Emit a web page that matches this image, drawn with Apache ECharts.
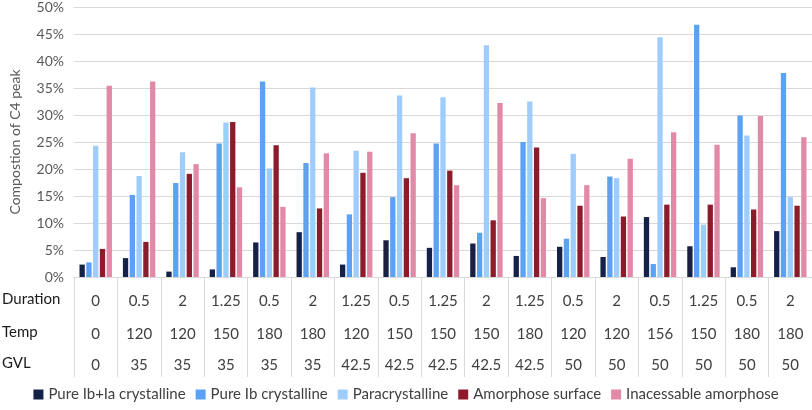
<!DOCTYPE html>
<html>
<head>
<meta charset="utf-8">
<script src="https://cdn.jsdelivr.net/npm/echarts@6/dist/echarts.min.js"></script>
<style>html,body{margin:0;padding:0;background:#fff}#c{width:812px;height:410px}</style>
</head>
<body>
<div id="c"></div>
<script>
var duration = ['0','0.5','2','1.25','0.5','2','1.25','0.5','1.25','2','1.25','0.5','2','0.5','1.25','0.5','2'];
var temp = ['0','120','120','150','180','180','120','150','150','150','180','120','120','156','150','180','180'];
var gvl = ['0','35','35','35','35','35','42.5','42.5','42.5','42.5','42.5','50','50','50','50','50','50'];
var seriesNames = ['Pure Ib+Ia crystalline','Pure Ib crystalline','Paracrystalline','Amorphose surface','Inacessable amorphose'];
var pureIbIa = [2.3,3.5,1.0,1.4,6.4,8.3,2.3,6.8,5.4,6.2,3.9,5.6,3.7,11.1,5.7,1.8,8.5];
var pureIb = [2.7,15.2,17.4,24.7,36.2,21.1,11.6,14.8,24.7,8.2,25.0,7.1,18.6,2.4,46.7,29.9,37.8];
var paracryst = [24.3,18.7,23.1,28.6,20.1,35.1,23.4,33.6,33.3,42.9,32.5,22.8,18.3,44.4,9.7,26.2,14.8];
var amorphSurf = [5.2,6.5,19.1,28.7,24.4,12.7,19.3,18.3,19.7,10.5,24.0,13.2,11.2,13.4,13.4,12.5,13.2];
var inaccAmorph = [35.4,36.2,20.9,16.6,13.0,22.9,23.2,26.6,17.0,32.2,14.6,17.0,21.9,26.8,24.5,29.8,25.9];
var rowLabels = ['Duration','Temp','GVL'];
var colors = ['#14224a','#5ba2f4','#9ecdfc','#8c1c2c','#e189a7'];

var font = 'Lato';
var chart = echarts.init(document.getElementById('c'));
var cats = duration.map(function(d,i){return i;});
var dataArrays = [pureIbIa, pureIb, paracryst, amorphSurf, inaccAmorph];
var rows = [duration, temp, gvl];
var offsets = [0, 33, 64];
var xAxes = rows.map(function(r, k){
  return {
    type: 'category', data: cats, position: 'bottom', offset: offsets[k],
    axisLine: {show: k === 0, lineStyle: {color: '#d9d9d9'}},
    axisTick: {show: k === 0, length: 100, interval: 0, lineStyle: {color: '#d9d9d9'}},
    axisLabel: {interval: 0, margin: 17, color: '#404040', fontFamily: font, fontSize: 15,
      formatter: function(v){ return r[v]; }}
  };
});
chart.setOption({
  animation: false,
  textStyle: {fontFamily: font},
  grid: {left: 73, right: 0, top: 6, bottom: 133},
  legend: {
    bottom: 3, left: 'center', itemWidth: 10, itemHeight: 10, itemGap: 10,
    icon: 'rect', textStyle: {color: '#404040', fontSize: 15, fontFamily: font},
    data: seriesNames
  },
  xAxis: xAxes,
  yAxis: {
    type: 'value', min: 0, max: 50, interval: 5,
    name: 'Compostion of C4 peak', nameLocation: 'middle', nameGap: 52,
    nameTextStyle: {color: '#595959', fontSize: 14, fontFamily: font},
    axisLine: {show: false}, axisTick: {show: false},
    axisLabel: {color: '#595959', fontSize: 14, fontFamily: font, margin: 10, formatter: '{value}%'},
    splitLine: {lineStyle: {color: '#d9d9d9'}}
  },
  graphic: rowLabels.map(function(t, k){
    return {type: 'text', left: 2, top: [302, 335, 366][k] - 10,
      style: {text: t, fill: '#1a1a1a', font: '15px ' + font}};
  }),
  series: dataArrays.map(function(d, i){
    return {
      name: seriesNames[i], type: 'bar', data: d, xAxisIndex: 0,
      barWidth: 5.3, barGap: '28%',
      itemStyle: {color: colors[i]}
    };
  })
});
</script>
</body>
</html>
